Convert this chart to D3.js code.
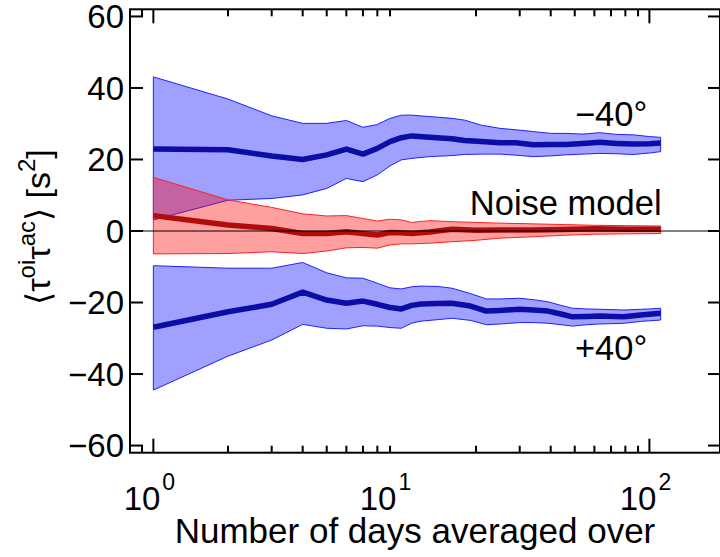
<!DOCTYPE html>
<html><head><meta charset="utf-8">
<script src="https://cdn.jsdelivr.net/npm/d3@7"></script>
<style>
html,body{margin:0;padding:0;background:#fff;}
svg{display:block;}
text{font-family:"Liberation Sans",Arial,Helvetica,sans-serif;fill:#000;}
</style></head>
<body>
<svg id="chart" width="720" height="557"></svg>
<script>
// ---- data ----
const minus40Days  = [1,2,3,4,5,6,7,8,9,10,11,13,16,18,21,25,29,34,40,46,54,63,74,86,100,111];
const minus40Mean  = [22.9,22.7,21.0,20.0,21.3,22.9,21.5,23.1,25.0,26.1,26.6,26.2,25.8,25.3,25.0,24.7,24.7,24.1,24.2,24.2,24.5,24.8,24.5,24.3,24.4,24.6];
const minus40Upper = [43.1,36.9,32.2,30.1,30.1,30.9,29.0,29.8,31.5,32.4,32.4,32.0,31.5,31.0,29.6,28.7,28.3,27.8,27.3,27.3,27.1,27.5,27.0,26.9,26.4,26.2];
const minus40Lower = [3.1,8.6,9.1,10.1,11.9,14.7,13.8,15.7,18.2,19.9,20.3,20.8,21.1,21.4,21.5,21.5,21.2,20.8,21.0,21.3,21.5,21.7,21.6,21.4,21.8,22.2];

const plus40Days  = [1,2,3,4,5,6,7,8,9,10,11,12,14,16,19,22,25,30,34,39,44,49,56,63,72,79,92,100,111];
const plus40Mean  = [-26.9,-22.6,-20.5,-17.1,-19.3,-20.2,-19.6,-20.5,-21.4,-21.8,-20.8,-20.4,-20.3,-20.2,-21.0,-22.4,-22.2,-21.9,-22.1,-22.4,-23.2,-24.0,-23.9,-23.8,-23.9,-24.0,-23.5,-23.3,-23.0];
const plus40Upper = [-9.7,-10.4,-10.4,-8.8,-11.7,-13.1,-13.2,-14.6,-15.9,-16.2,-15.6,-15.4,-15.5,-16.0,-17.5,-19.0,-19.0,-18.8,-19.2,-19.8,-20.8,-21.6,-21.8,-21.9,-22.0,-22.1,-21.9,-21.8,-21.6];
const plus40Lower = [-44.5,-35.0,-30.5,-26.1,-27.2,-27.4,-26.5,-26.6,-27.0,-27.2,-25.8,-25.2,-24.8,-24.4,-25.0,-26.2,-26.0,-25.6,-25.6,-25.8,-26.2,-26.6,-26.2,-26.0,-25.9,-25.8,-25.3,-25.1,-24.9];

const noiseDays  = [1,2,3,4,5,6,7,8,9,10,11,13,16,20,25,34,45,60,80,111];
const noiseMean  = [4.3,1.7,0.7,-0.7,-0.7,-0.2,-0.7,-1.1,-0.4,-0.5,-0.7,-0.3,0.5,0.2,0.3,0.3,0.4,0.6,0.5,0.5];
const noiseUpper = [15.0,8.7,6.6,4.8,4.2,4.3,3.5,2.8,3.3,3.1,2.4,2.9,2.6,2.4,2.2,2.0,1.8,1.6,1.5,1.4];
const noiseLower = [-6.4,-6.3,-5.8,-6.3,-5.6,-4.7,-4.6,-4.8,-3.9,-3.6,-3.6,-3.4,-3.0,-2.6,-2.0,-1.6,-1.2,-0.9,-0.8,-0.7];

const yTickValues = [-60,-40,-20,0,20,40,60];
const yTickLabels = ["\u221260","\u221240","\u221220","0","20","40","60"];
const xMajorTicks = [1,100];
const xMinorTicks = [0.9,2,3,4,5,6,7,8,9,20,30,40,50,60,70,80,90];
const xLabelValues = [1,10,100];
const xLabelExps = ["0","1","2"];

// label anchors (right end, baseline) in data units
const seriesLabelText = ["\u221240\u00b0","Noise model","+40\u00b0"];
const seriesLabelX = [98, 112, 98];
const seriesLabelY = [29.4, 4.5, -36.1];

// ---- layout ----
const L=130, R=720, T=9.3, B=452.7;
const svg = d3.select("#chart");
const x = d3.scaleLog().domain([0.805, 192.6]).range([L, R]);
const y = d3.scaleLinear().domain([-62, 62]).range([B, T]);

svg.append("defs").append("clipPath").attr("id","clip")
  .append("rect").attr("x",L).attr("y",T).attr("width",R-L).attr("height",B-T);
const plot = svg.append("g").attr("clip-path","url(#clip)");

function zipSeries(days, mean, up, lo){
  return days.map((d,i)=>({d:d, m:mean[i], u:up[i], l:lo[i]}));
}
const area = d3.area().x(p=>x(p.d)).y0(p=>y(p.l)).y1(p=>y(p.u));
const meanLine = d3.line().x(p=>x(p.d)).y(p=>y(p.m));

function drawBand(data, fill, edge){
  plot.append("path").datum(data).attr("d",area)
    .attr("fill",fill).attr("fill-opacity",0.373)
    .attr("stroke",edge).attr("stroke-width",1);
}
function drawMean(data, lineCol){
  plot.append("path").datum(data).attr("d",meanLine)
    .attr("fill","none").attr("stroke",lineCol).attr("stroke-width",5.5)
    .attr("stroke-linejoin","round");
}
const m40 = zipSeries(minus40Days, minus40Mean, minus40Upper, minus40Lower);
const p40 = zipSeries(plus40Days, plus40Mean, plus40Upper, plus40Lower);
const nz  = zipSeries(noiseDays, noiseMean, noiseUpper, noiseLower);

drawBand(m40, "#0000ff", "#1f1fff");
drawBand(p40, "#0000ff", "#1f1fff");
drawMean(m40, "#0c0ca6");
drawMean(p40, "#0c0ca6");
drawBand(nz, "#ff0000", "#ff2020");
drawMean(nz, "#b00c0c");

// zero line
svg.append("line").attr("x1",L).attr("x2",R).attr("y1",y(0)).attr("y2",y(0))
  .attr("stroke","#000").attr("stroke-width",1);

// frame
const ax = svg.append("g").attr("stroke","#000").attr("stroke-width",2);
ax.append("rect").attr("x",L).attr("y",T).attr("width",R-L).attr("height",B-T).attr("fill","none");

yTickValues.forEach(v=>{
  ax.append("line").attr("x1",L).attr("x2",L+13).attr("y1",y(v)).attr("y2",y(v));
  ax.append("line").attr("x1",R-12).attr("x2",R).attr("y1",y(v)).attr("y2",y(v));
});
xMajorTicks.forEach(v=>{
  ax.append("line").attr("x1",x(v)).attr("x2",x(v)).attr("y1",B).attr("y2",B-14);
  ax.append("line").attr("x1",x(v)).attr("x2",x(v)).attr("y1",T).attr("y2",T+14);
});
xMinorTicks.forEach(v=>{
  ax.append("line").attr("x1",x(v)).attr("x2",x(v)).attr("y1",B).attr("y2",B-7);
  ax.append("line").attr("x1",x(v)).attr("x2",x(v)).attr("y1",T).attr("y2",T+7);
});

// y tick labels
yTickValues.forEach((v,i)=>{
  svg.append("text").attr("x",124).attr("y",y(v)+11.7)
    .attr("text-anchor","end").attr("font-size",33).text(yTickLabels[i]);
});
// x tick labels ("10" + superscript exponent)
xLabelValues.forEach((v,i)=>{
  const cx = x(v) + (v===10 ? -12 : 0);
  const g = svg.append("g");
  g.append("text").attr("x",cx+7).attr("y",510).attr("text-anchor","end")
    .attr("font-size",33).text("10");
  g.append("text").attr("x",cx+9).attr("y",490).attr("text-anchor","start")
    .attr("font-size",23).text(xLabelExps[i]);
});

// axis titles
svg.append("text").attr("x",415).attr("y",543).attr("text-anchor","middle")
  .attr("font-size",35).text("Number of days averaged over");

const yt = svg.append("text").attr("transform","translate(50,227) rotate(-90)")
  .attr("text-anchor","middle").attr("font-size",34);
yt.append("tspan").text("\u27e8\u03c4");
yt.append("tspan").attr("font-size",24).attr("dy",-15).text("oi");
yt.append("tspan").attr("dy",15).text("\u03c4");
yt.append("tspan").attr("font-size",24).attr("dy",-15).text("ac");
yt.append("tspan").attr("dy",15).text("\u27e9 [s");
yt.append("tspan").attr("font-size",24).attr("dy",-15).text("2");
yt.append("tspan").attr("dy",15).text("]");

// series labels
seriesLabelText.forEach((s,i)=>{
  svg.append("text").attr("x",x(seriesLabelX[i])).attr("y",y(seriesLabelY[i]))
    .attr("text-anchor","end").attr("font-size",34.5).text(s);
});
</script>
</body></html>
